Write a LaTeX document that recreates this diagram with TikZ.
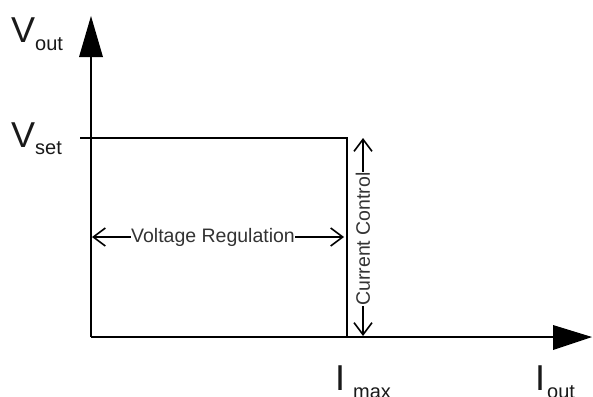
\documentclass[tikz,border=0pt]{standalone}
\usepackage{fontspec}
\setmainfont{Liberation Sans}
\usetikzlibrary{arrows.meta}
\definecolor{txt}{HTML}{333333}
\begin{document}
\begin{tikzpicture}[x=1pt,y=-1pt,
  axis/.style={line width=1.5pt,black},
  dim/.style={line width=1.6pt,black,{Straight Barb[length=12pt,width=18pt,line width=1.6pt]}-{Straight Barb[length=12pt,width=18pt,line width=1.6pt]}},
  lbl/.style={fill=white,inner sep=0.5pt,text=txt,font=\fontsize{19.5}{20}\selectfont},
  big/.style={inner sep=0pt,anchor=base west,text=black!90}]
\useasboundingbox (0,0) rectangle (593,396);
% axes
\coordinate (o) at (91,337);
\coordinate (ytop) at (91,57);
\coordinate (xend) at (553,337);
\draw[axis] (o) -- (ytop);
\draw[axis] (o) -- (xend);
\fill (91,16) -- (79,57) -- (103,57) -- cycle;
\fill (592,337) -- (553,325) -- (553,350) -- cycle;
% characteristic
\coordinate (vs) at (80,138);
\coordinate (corner) at (347,138);
\coordinate (im) at (347,337);
\draw[axis] (vs) -- (corner) -- (im);
% voltage regulation
\coordinate (vl) at (92,237);
\coordinate (vr) at (344,237);
\draw[dim] (vl) -- (vr);
\node[lbl] (vreg) at (213,237) {Voltage Regulation};
% current control
\coordinate (ct) at (363,138);
\coordinate (cb) at (363,336);
\draw[dim] (ct) -- (cb);
\node[lbl,rotate=90] (cc) at (363,239) {Current Control};
% labels
\node[big] (vout) at (11,43) {\fontsize{36}{36}\selectfont V\raisebox{-7pt}{\fontsize{20}{20}\selectfont out}};
\node[big] (vset) at (11,147) {\fontsize{36}{36}\selectfont V\raisebox{-7pt}{\fontsize{20}{20}\selectfont set}};
\node[big] (imax) at (335,390) {\fontsize{36}{36}\selectfont I\hspace{8pt}\raisebox{-8pt}{\fontsize{20}{20}\selectfont max}};
\node[big] (iout) at (535,390) {\fontsize{36}{36}\selectfont I\hspace{2pt}\raisebox{-8pt}{\fontsize{20}{20}\selectfont out}};
\end{tikzpicture}
\end{document}
